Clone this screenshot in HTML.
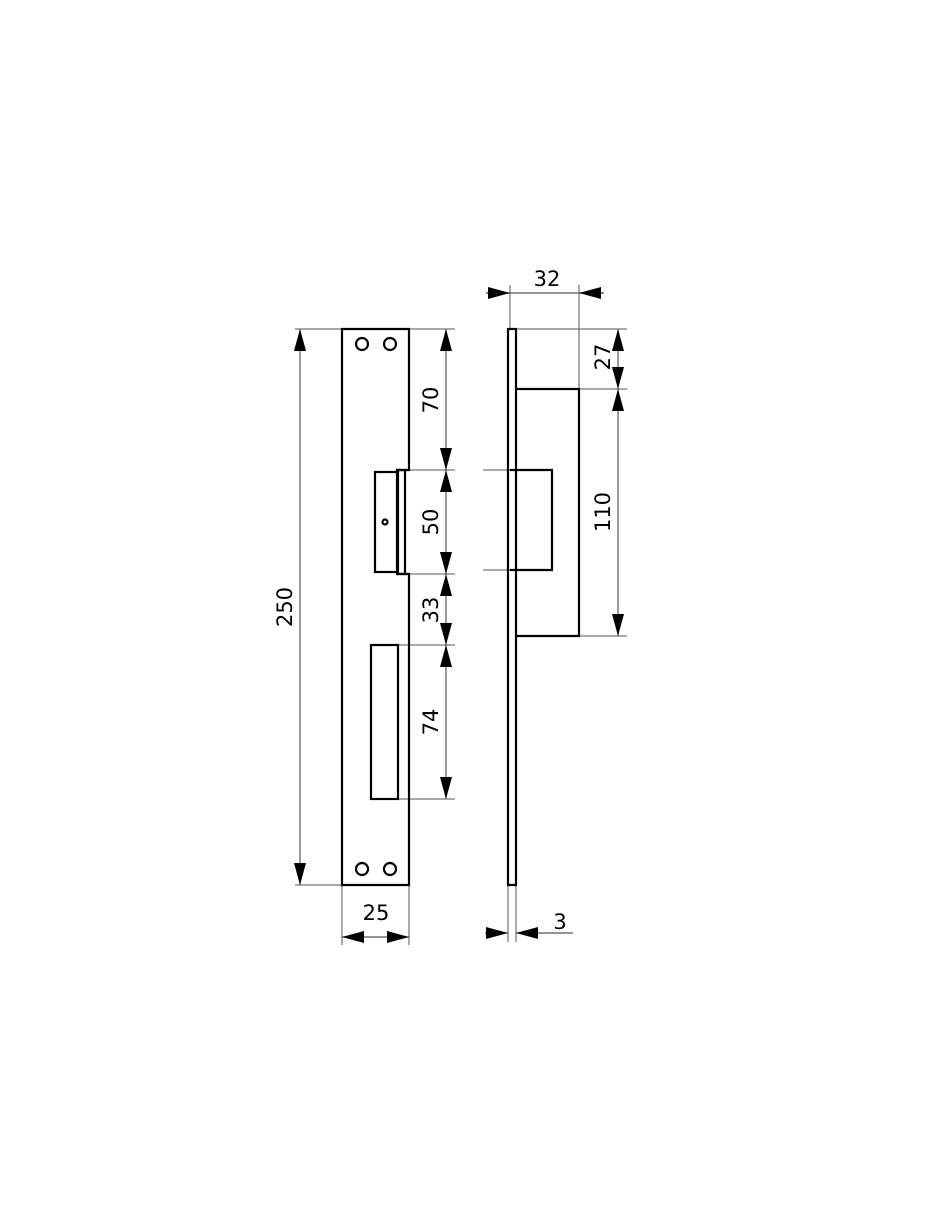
<!DOCTYPE html>
<html><head><meta charset="utf-8"><style>
html,body{margin:0;padding:0;background:#fff;width:940px;height:1214px;overflow:hidden}
svg text{font-family:"DejaVu Sans","Liberation Sans",sans-serif;font-size:21px;fill:#000}
</style></head><body>
<svg width="940" height="1214" viewBox="0 0 940 1214" xmlns="http://www.w3.org/2000/svg">
<defs>
<marker id="a" viewBox="0 0 22 12" refX="22" refY="6" markerWidth="22" markerHeight="12" markerUnits="userSpaceOnUse" orient="auto"><path d="M0,0L22,6L0,12z" fill="#000"/></marker>
</defs>
<g stroke="#555" stroke-width="1" fill="none">
<line x1="295" y1="329" x2="342" y2="329"/>
<line x1="295" y1="885" x2="342" y2="885"/>
<line x1="409" y1="329" x2="455" y2="329"/>
<line x1="405" y1="470" x2="455" y2="470"/>
<line x1="405" y1="574" x2="455" y2="574"/>
<line x1="398" y1="645" x2="455" y2="645"/>
<line x1="398" y1="799" x2="455" y2="799"/>
<line x1="342" y1="885" x2="342" y2="945"/>
<line x1="409" y1="885" x2="409" y2="945"/>
<line x1="510" y1="285" x2="510" y2="329"/>
<line x1="579" y1="285" x2="579" y2="389"/>
<line x1="515" y1="329" x2="627" y2="329"/>
<line x1="579" y1="389" x2="627" y2="389"/>
<line x1="579" y1="636" x2="627" y2="636"/>
<line x1="483" y1="470" x2="510" y2="470"/>
<line x1="483" y1="570" x2="510" y2="570"/>
<line x1="508" y1="885" x2="508" y2="942"/>
<line x1="516" y1="885" x2="516" y2="942"/>
</g>
<g stroke="#555" stroke-width="1.2" fill="none">
<line x1="300" y1="607" x2="300" y2="329" marker-end="url(#a)"/>
<line x1="300" y1="607" x2="300" y2="885" marker-end="url(#a)"/>
<line x1="446" y1="400" x2="446" y2="329" marker-end="url(#a)"/>
<line x1="446" y1="400" x2="446" y2="470" marker-end="url(#a)"/>
<line x1="446" y1="522" x2="446" y2="470" marker-end="url(#a)"/>
<line x1="446" y1="522" x2="446" y2="574" marker-end="url(#a)"/>
<line x1="446" y1="610" x2="446" y2="574" marker-end="url(#a)"/>
<line x1="446" y1="610" x2="446" y2="645" marker-end="url(#a)"/>
<line x1="446" y1="722" x2="446" y2="645" marker-end="url(#a)"/>
<line x1="446" y1="722" x2="446" y2="799" marker-end="url(#a)"/>
<line x1="375" y1="937" x2="342" y2="937" marker-end="url(#a)"/>
<line x1="375" y1="937" x2="409" y2="937" marker-end="url(#a)"/>
<line x1="486" y1="293" x2="604" y2="293"/>
<line x1="486" y1="293" x2="510" y2="293" marker-end="url(#a)"/>
<line x1="604" y1="293" x2="579" y2="293" marker-end="url(#a)"/>
<line x1="618" y1="359" x2="618" y2="329" marker-end="url(#a)"/>
<line x1="618" y1="359" x2="618" y2="389" marker-end="url(#a)"/>
<line x1="618" y1="512" x2="618" y2="389" marker-end="url(#a)"/>
<line x1="618" y1="512" x2="618" y2="636" marker-end="url(#a)"/>
<line x1="485" y1="933" x2="508" y2="933" marker-end="url(#a)"/>
<line x1="573" y1="933" x2="516" y2="933" marker-end="url(#a)"/>
</g>
<g stroke="#000" stroke-width="2.2" fill="none">
<path d="M342,329 H409 V470 H397 V574 H409 V885 H342 Z"/>
<path d="M397,470 H405 V574 H397"/>
<rect x="375" y="472" width="23" height="100"/>
<rect x="371" y="645" width="27" height="154"/>
<circle cx="362" cy="344" r="6"/>
<circle cx="390" cy="344" r="6"/>
<circle cx="362" cy="869" r="6"/>
<circle cx="390" cy="869" r="6"/>
<circle cx="385" cy="522" r="2.5"/>
<rect x="508" y="329" width="8" height="556"/>
<path d="M516,389 H579 V636 H516"/>
<path d="M510,470 H552 V570 H510"/>
</g>
<text transform="translate(296,607) rotate(-90)" text-anchor="middle" dy="-4">250</text>
<text transform="translate(438,400) rotate(-90)" text-anchor="middle">70</text>
<text transform="translate(438,522) rotate(-90)" text-anchor="middle">50</text>
<text transform="translate(438,610) rotate(-90)" text-anchor="middle">33</text>
<text transform="translate(438,722) rotate(-90)" text-anchor="middle">74</text>
<text x="376" y="920" text-anchor="middle">25</text>
<text x="547" y="286" text-anchor="middle">32</text>
<text transform="translate(610,357) rotate(-90)" text-anchor="middle">27</text>
<text transform="translate(610,512) rotate(-90)" text-anchor="middle">110</text>
<text x="560" y="929" text-anchor="middle">3</text>
</svg>
</body></html>
